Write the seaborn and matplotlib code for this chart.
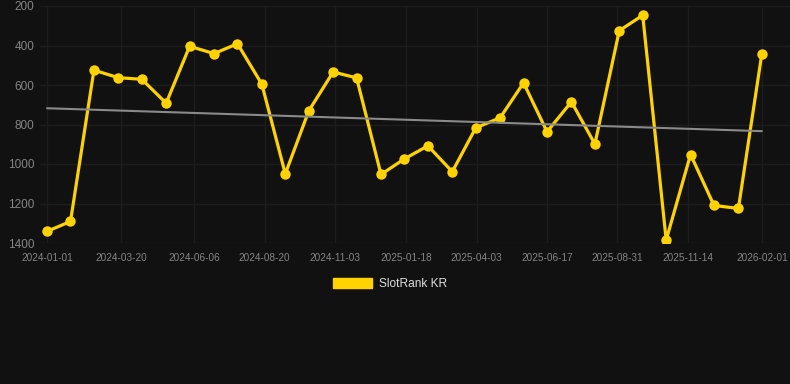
import numpy as np
import pandas as pd
import matplotlib
matplotlib.use("Agg")
import matplotlib.pyplot as plt
import matplotlib.dates as mdates
from matplotlib.patches import Patch
import seaborn as sns

dates = [
    "2024-01-01", "2024-01-26", "2024-02-20", "2024-03-17", "2024-04-11",
    "2024-05-07", "2024-06-01", "2024-06-27", "2024-07-22", "2024-08-17",
    "2024-09-11", "2024-10-06", "2024-11-01", "2024-11-26", "2024-12-22",
    "2025-01-16", "2025-02-10", "2025-03-08", "2025-04-02", "2025-04-28",
    "2025-05-23", "2025-06-17", "2025-07-13", "2025-08-07", "2025-09-02",
    "2025-09-27", "2025-10-22", "2025-11-17", "2025-12-12", "2026-01-07",
    "2026-02-01",
]
ranks = [
    1341, 1291, 525, 563, 571, 692, 404, 441, 391, 596,
    1050, 731, 534, 564, 1053, 974, 908, 1039, 817, 766,
    589, 837, 685, 899, 325, 247, 1385, 952, 1210, 1225,
    441,
]
tick_labels = [
    "2024-01-01", "2024-03-20", "2024-06-06", "2024-08-20", "2024-11-03",
    "2025-01-18", "2025-04-03", "2025-06-17", "2025-08-31", "2025-11-14",
    "2026-02-01",
]
y_ticks = [200, 400, 600, 800, 1000, 1200, 1400]

BG = "#111111"
GRID = "#1d1d1d"
YELLOW = "#FFD200"
TEXT = "#858585"

df = pd.DataFrame({"date": pd.to_datetime(dates), "rank": ranks})

sns.set_theme(style="dark", rc={
    "axes.facecolor": BG,
    "figure.facecolor": BG,
    "axes.edgecolor": BG,
    "grid.color": GRID,
})
plt.rcParams["font.family"] = ["Liberation Sans", "DejaVu Sans"]

fig = plt.figure(figsize=(7.9, 3.84), dpi=100)
ax = fig.add_axes([40 / 790, 1 - 243 / 384, 750 / 790, 237 / 384])

sns.lineplot(data=df, x="date", y="rank", ax=ax, color=YELLOW, linewidth=2.3,
             marker="o", markersize=7.5, markeredgewidth=0, zorder=3)

# trend line from a linear fit
x_num = mdates.date2num(df["date"])
coef = np.polyfit(x_num, df["rank"], 1)
ends = x_num[[0, -1]]
ax.plot(ends, np.polyval(coef, ends), color="#8a8a8a", linewidth=1.5, zorder=4)

ax.set_ylim(1400, 200)
ax.set_yticks(y_ticks)
ax.set_xlim(x_num[0] - 7.5, x_num[-1] + 30)
ax.set_xticks(mdates.date2num(pd.to_datetime(tick_labels)))
ax.set_xticklabels(tick_labels)
ax.grid(True, color=GRID, linewidth=1)
ax.tick_params(axis="y", length=0, pad=4, labelsize=8.5, labelcolor=TEXT)
ax.tick_params(axis="x", length=4, color=GRID, pad=3, labelsize=7.2, labelcolor=TEXT)
ax.set_xlabel("")
ax.set_ylabel("")
for s in ax.spines.values():
    s.set_visible(False)

handle = Patch(facecolor=YELLOW, edgecolor=YELLOW)
fig.legend([handle], ["SlotRank KR"], loc="center", bbox_to_anchor=(390 / 790, 1 - 284 / 384),
           frameon=False, fontsize=8.6, labelcolor="#dddddd",
           handlelength=3.3, handleheight=0.9, handletextpad=0.55)

fig.savefig("out.png", dpi=100, facecolor=BG)
